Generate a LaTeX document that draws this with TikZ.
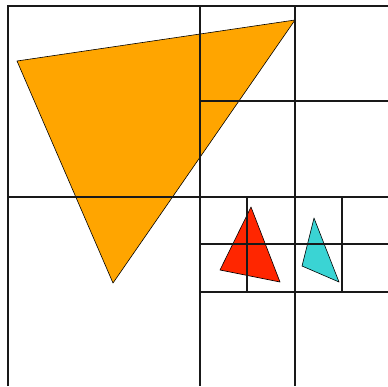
\documentclass[tikz,border=0pt]{standalone}
\usepackage{tikz}
\definecolor{corange}{HTML}{FFA500}
\definecolor{cred}{HTML}{FF2600}
\definecolor{ccyan}{HTML}{3AD4D4}
\tikzset{
  cell/.style = {line width=1.8pt, draw=black!90},
  tri/.style  = {draw=black, line width=0.6pt, line join=round},
}
\begin{document}
\begin{tikzpicture}[x=1pt, y=-1pt]
  \useasboundingbox (0,0) rectangle (388,386);
  % triangles
  \filldraw[tri, fill=corange] (17,61) -- (295,20) -- (113,283) -- cycle;
  \filldraw[tri, fill=cred] (251,207) -- (220,270) -- (280,282) -- cycle;
  \filldraw[tri, fill=ccyan] (314,218) -- (302,266) -- (339,282) -- cycle;
  % quadtree cells
  \draw[cell] (8,386) -- (8,6) -- (388,6);
  \draw[cell] (200,6) -- (200,386);
  \draw[cell] (8,197) -- (388,197);
  \draw[cell] (295,6) -- (295,386);
  \draw[cell] (200,101) -- (388,101);
  \draw[cell] (200,292) -- (388,292);
  \draw[cell] (200,244) -- (388,244);
  \foreach \x in {247,342}
    \draw[cell] (\x,197) -- (\x,292);
\end{tikzpicture}
\end{document}
